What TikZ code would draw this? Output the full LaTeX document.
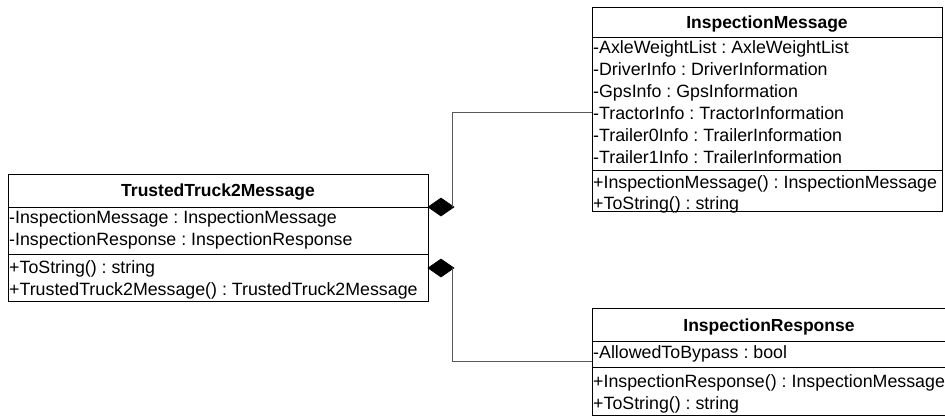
\documentclass[tikz,border=0pt]{standalone}
\usepackage{fontspec}
\setmainfont{Liberation Sans}
\usetikzlibrary{shapes.geometric}
\frenchspacing

\tikzset{
  compartment/.style={draw=black, line width=1pt, fill=white, inner sep=0pt, outer sep=0pt, anchor=north west},
  member/.style={anchor=base west, inner sep=0pt, font=\fontsize{17.8}{21}\selectfont},
  classname/.style={anchor=base, inner sep=0pt, font=\fontsize{17.5}{21}\selectfont\bfseries},
  aggdiamond/.style={diamond, fill=black, draw=black, line width=0.6pt, minimum width=26pt, minimum height=18pt, inner sep=0pt, outer sep=0pt, anchor=west},
  link/.style={draw=black!65, line width=1pt}
}

\begin{document}
\begin{tikzpicture}[x=1pt,y=-1pt]
\useasboundingbox (0,0) rectangle (945,416);

% ---- TrustedTruck2Message ----
\node[compartment, minimum width=420pt, minimum height=33pt] (tt-head) at (8,174) {};
\node[compartment, minimum width=420pt, minimum height=47pt] (tt-attr) at (8,207) {};
\node[compartment, minimum width=420pt, minimum height=47pt] (tt-meth) at (8,254) {};
\node[classname] (tt-name) at (218,196) {TrustedTruck2Message};
\node[member] (tt-a1) at (9,223) {-InspectionMessage : InspectionMessage};
\node[member] (tt-a2) at (9,245) {-InspectionResponse : InspectionResponse};
\node[member] (tt-m1) at (9,273) {+ToString() : string};
\node[member] (tt-m2) at (9,295) {+TrustedTruck2Message() : TrustedTruck2Message};

% ---- InspectionMessage ----
\node[compartment, minimum width=350pt, minimum height=30pt] (im-head) at (592,7) {};
\node[compartment, minimum width=350pt, minimum height=133pt] (im-attr) at (592,37) {};
\node[compartment, minimum width=350pt, minimum height=41pt] (im-meth) at (592,170) {};
\node[classname] (im-name) at (767,28) {InspectionMessage};
\node[member] (im-a1) at (593,53) {-AxleWeightList : AxleWeightList};
\node[member] (im-a2) at (593,75) {-DriverInfo : DriverInformation};
\node[member] (im-a3) at (593,97) {-GpsInfo : GpsInformation};
\node[member] (im-a4) at (593,119) {-TractorInfo : TractorInformation};
\node[member] (im-a5) at (593,141) {-Trailer0Info : TrailerInformation};
\node[member] (im-a6) at (593,163) {-Trailer1Info : TrailerInformation};
\node[member] (im-m1) at (593,188) {+InspectionMessage() : InspectionMessage};
\node[member] (im-m2) at (593,209) {+ToString() : string};

% ---- InspectionResponse ----
\node[compartment, minimum width=354pt, minimum height=33pt] (ir-head) at (592,308) {};
\node[compartment, minimum width=354pt, minimum height=26pt] (ir-attr) at (592,341) {};
\node[compartment, minimum width=354pt, minimum height=48pt] (ir-meth) at (592,367) {};
\node[classname] (ir-name) at (769,331) {InspectionResponse};
\node[member] (ir-a1) at (593,358) {-AllowedToBypass : bool};
\node[member] (ir-m1) at (593,387) {+InspectionResponse() : InspectionMessage};
\node[member] (ir-m2) at (593,409) {+ToString() : string};

% ---- composition diamonds on TrustedTruck2Message ----
\node[aggdiamond] (d1) at (tt-attr.north east) {};
\node[aggdiamond] (d2) at ([yshift=-14pt]tt-meth.north east) {};

% ---- connectors ----
\draw[link] ([xshift=-2pt]d1.east) |- ([yshift=-8.5pt]im-attr.west);
\draw[link] ([xshift=-2pt]d2.east) |- ([yshift=-7pt]ir-attr.west);
\end{tikzpicture}
\end{document}
